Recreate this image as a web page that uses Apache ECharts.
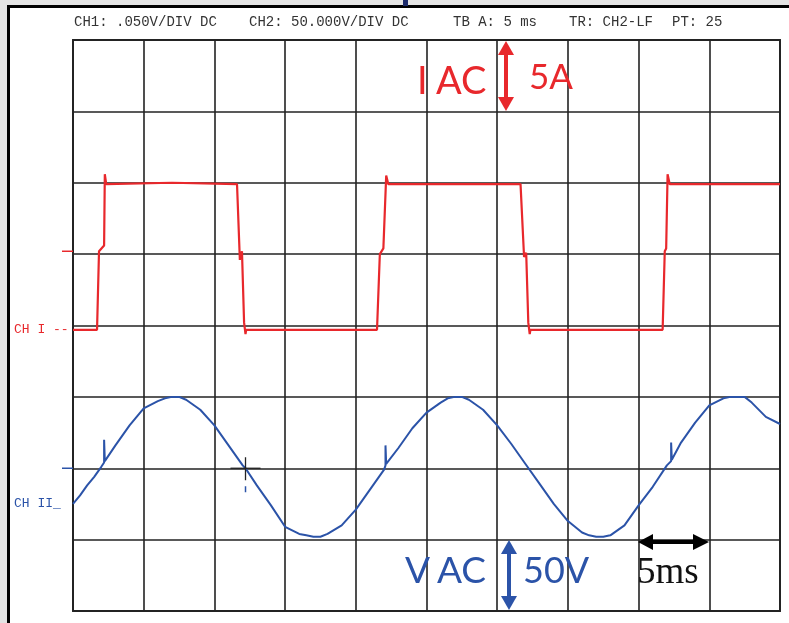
<!DOCTYPE html>
<html>
<head>
<meta charset="utf-8">
<script src="https://cdn.jsdelivr.net/npm/echarts@6/dist/echarts.min.js"></script>
<style>
html, body { margin: 0; padding: 0; background: #e3e3e3; }
#scope { width: 789px; height: 623px; }
</style>
</head>
<body>
<div id="scope"></div>
<script>
// CH I : current (A), 5 A/div
const iTime = [0, 1.7, 1.84, 1.84, 1.98, 2.2, 2.25, 2.35, 7, 11.6, 11.7, 11.8, 11.95, 12.1, 12.2, 12.25,
  21.5, 21.6, 21.7, 21.95, 22.15, 22.3, 31.65, 31.75, 31.9, 32.05, 32.2, 32.3, 32.35,
  41.7, 41.85, 41.95, 42.05, 42.2, 50];
const iAmp = [-0.3, -0.3, -0.3, 5.2, 5.3, 5.6, 10.6, 9.9, 10.0, 9.9, 9.9, 4.6, 5.2, 0.2, -0.6, -0.3,
  -0.3, -0.3, 5.0, 5.4, 10.5, 9.9, 9.9, 9.9, 4.8, 5.1, 0.2, -0.6, -0.3,
  -0.3, 5.2, 5.4, 10.6, 9.9, 9.9];

// CH II : voltage (V), 50 V/div
const vTime = [0, 0.5, 1, 1.5, 2, 2.2, 2.2, 2.25, 3, 4, 5, 6, 6.5, 7, 7.5, 8, 9, 10, 11, 12, 12.2,
  13, 14, 15, 16, 16.5, 17, 17.5, 18, 19, 20, 21, 22, 22.1, 22.1, 22.15,
  23, 24, 25, 26, 26.5, 27, 27.5, 28, 29, 30, 31, 32, 33, 34, 35, 36, 36.5, 37, 37.5, 38,
  39, 40, 41, 42, 42.3, 42.3, 42.35, 43, 44, 45, 46, 46.5, 47, 47.5, 48, 49, 50];
const vVolt = [-25, -19, -12, -6, 1, 4, 20, 5, 16, 30, 42, 47, 49, 50, 50, 48, 41, 30, 16, 2, 0,
  -12, -26, -41, -46, -47, -48, -48, -46, -40, -29, -15, -1, 2, 16, 3,
  14, 28, 39, 46, 49, 50, 50, 48, 41, 30, 17, 3, -11, -25, -37, -45, -47, -48, -48, -47,
  -40, -26, -13, 2, 5, 18, 6, 18, 32, 44, 49, 50, 50, 50, 46, 36, 31];

const headerParts = ["CH1: .050V/DIV DC", "CH2: 50.000V/DIV DC", "TB A: 5 ms", "TR: CH2-LF", "PT: 25"];
const headerX = [74, 249, 453, 569, 672];
const iTrigMark = 5.2;   // red marker on the left
const vRefMark = 0;      // blue marker on the left
const cursorPos = [12.2, 0];

const RED = "#e8282c";
const BLUE = "#2b53a8";

const chart = echarts.init(document.getElementById("scope"));

const option = {
  animation: false,
  backgroundColor: "#e3e3e3",
  grid: {
    left: 73, right: 9, top: 40, bottom: 12,
    show: true, backgroundColor: "#fff", borderColor: "#2a2a2a", borderWidth: 2,
  },
  xAxis: {
    type: "value", min: 0, max: 50, interval: 5,
    axisLine: { show: false }, axisTick: { show: false }, axisLabel: { show: false },
    splitLine: { lineStyle: { color: "#222", width: 1.6 } },
  },
  yAxis: [
    {
      type: "value", min: -20, max: 20, interval: 5,
      axisLine: { show: false }, axisTick: { show: false }, axisLabel: { show: false },
      splitLine: { lineStyle: { color: "#222", width: 1.6 } },
    },
    { type: "value", min: -100, max: 300, interval: 50, show: false, splitLine: { show: false } },
  ],
  series: [
    {
      name: "CH I", type: "line", yAxisIndex: 0, showSymbol: false, z: 3,
      lineStyle: { color: RED, width: 2.2 },
      data: iTime.map((t, k) => [t, iAmp[k]]),
    },
    {
      name: "CH II", type: "line", yAxisIndex: 1, showSymbol: false, z: 3,
      lineStyle: { color: BLUE, width: 2 },
      data: vTime.map((t, k) => [t, vVolt[k]]),
    },
  ],
};
chart.setOption(option);

// overlay: frame, header, channel markers, annotations
const pI = (v) => chart.convertToPixel({ yAxisIndex: 0 }, v);
const pV = (v) => chart.convertToPixel({ yAxisIndex: 1 }, v);
const left = chart.convertToPixel({ xAxisIndex: 0 }, 0);
const cur = chart.convertToPixel({ xAxisIndex: 0, yAxisIndex: 1 }, cursorPos);

function bigText(x, y, s, color, size, family) {
  return {
    type: "text", x, y, z: 20,
    style: { text: s, fill: color, font: size + "px " + (family || "Lato"), verticalAlign: "middle" },
  };
}

const graphic = [
  { type: "rect", z: -10, shape: { x: 9, y: 8, width: 780, height: 615 }, style: { fill: "#fff" } },
  { type: "rect", z: 20, shape: { x: 7, y: 5, width: 3, height: 618 }, style: { fill: "#000" } },
  { type: "rect", z: 20, shape: { x: 7, y: 5, width: 782, height: 3 }, style: { fill: "#000" } },
  { type: "rect", z: 20, shape: { x: 403, y: 0, width: 5, height: 6 }, style: { fill: "#1c2a6a" } },
  // channel markers
  { type: "line", z: 5, shape: { x1: left - 11, y1: pI(iTrigMark), x2: left, y2: pI(iTrigMark) }, style: { stroke: RED, lineWidth: 1.5 } },
  { type: "line", z: 5, shape: { x1: left - 11, y1: pV(vRefMark), x2: left, y2: pV(vRefMark) }, style: { stroke: BLUE, lineWidth: 1.5 } },
  bigText(14, pI(-0.3), "CH I --", RED, 13, "Liberation Mono"),
  bigText(14, pV(-25), "CH II_", BLUE, 13, "Liberation Mono"),
  // cursor
  { type: "line", z: 6, shape: { x1: cur[0] - 15, y1: cur[1], x2: cur[0] + 15, y2: cur[1] }, style: { stroke: "#222", lineWidth: 1.3 } },
  { type: "line", z: 6, shape: { x1: cur[0], y1: cur[1] - 11, x2: cur[0], y2: cur[1] + 12 }, style: { stroke: "#222", lineWidth: 1.3 } },
  { type: "line", z: 6, shape: { x1: cur[0], y1: cur[1] + 18, x2: cur[0], y2: cur[1] + 24 }, style: { stroke: BLUE, lineWidth: 1.5 } },
  // I AC 5A
  bigText(417, 82, "I", RED, 38),
  bigText(436, 82, "AC", RED, 38),
  bigText(529, 78, "5A", RED, 35),
  { type: "rect", z: 20, shape: { x: 504, y: 50, width: 4, height: 52 }, style: { fill: RED } },
  { type: "polygon", z: 20, shape: { points: [[498, 55], [506, 41], [514, 55]] }, style: { fill: RED } },
  { type: "polygon", z: 20, shape: { points: [[498, 97], [506, 111], [514, 97]] }, style: { fill: RED } },
  // V AC 50V
  bigText(405, 571, "V", BLUE, 37),
  bigText(437, 571, "AC", BLUE, 37),
  bigText(523, 571, "50V", BLUE, 36),
  { type: "rect", z: 20, shape: { x: 507, y: 550, width: 4, height: 50 }, style: { fill: BLUE } },
  { type: "polygon", z: 20, shape: { points: [[501, 554], [509, 540], [517, 554]] }, style: { fill: BLUE } },
  { type: "polygon", z: 20, shape: { points: [[501, 596], [509, 610], [517, 596]] }, style: { fill: BLUE } },
  // 5ms
  bigText(637, 573, "5ms", "#111", 37, "Liberation Serif"),
  { type: "rect", z: 20, shape: { x: 648, y: 540, width: 50, height: 4 }, style: { fill: "#000" } },
  { type: "polygon", z: 20, shape: { points: [[653, 534], [638, 542], [653, 550]] }, style: { fill: "#000" } },
  { type: "polygon", z: 20, shape: { points: [[693, 534], [709, 542], [693, 550]] }, style: { fill: "#000" } },
];

headerParts.forEach((s, k) => {
  graphic.push({
    type: "text", x: headerX[k], y: 22, z: 20,
    style: { text: s, fill: "#333", font: "14px Liberation Mono", verticalAlign: "middle" },
  });
});

chart.setOption({ graphic });
</script>
</body>
</html>
